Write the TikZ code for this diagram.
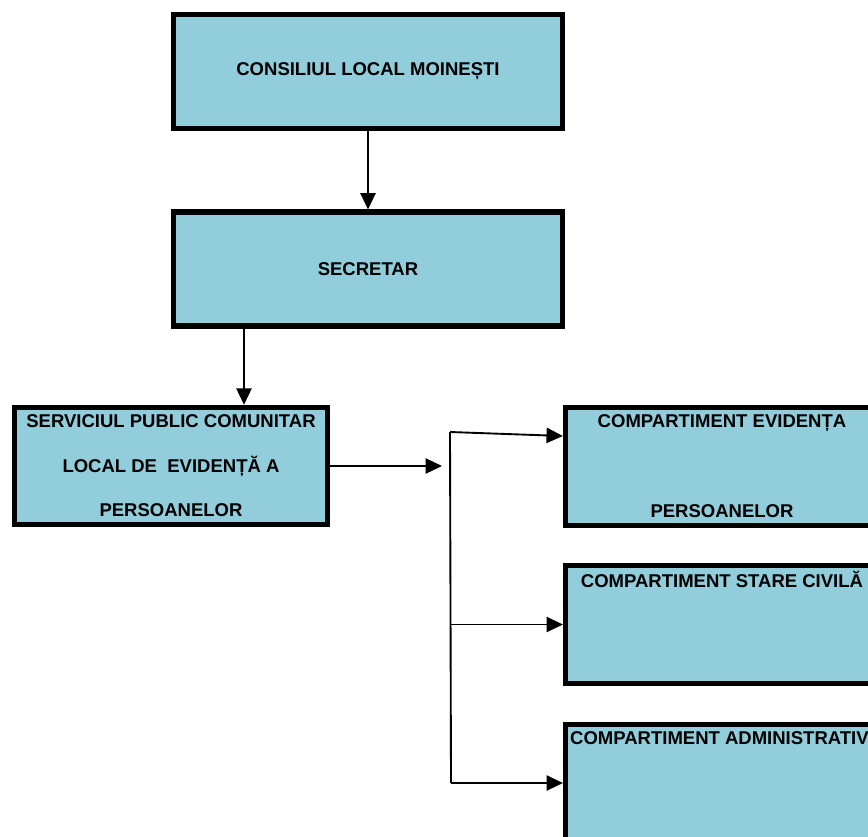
\documentclass[tikz,border=0pt]{standalone}
\usepackage{fontspec}
\setmainfont{Liberation Sans}
\usetikzlibrary{arrows.meta}
\definecolor{boxblue}{HTML}{92CDDC}
\begin{document}
\begin{tikzpicture}[x=0.03cm, y=-0.03cm,
	txt/.style={font=\fontsize{15.8}{38}\selectfont\bfseries},
	box/.style={draw, line width=4.4pt, fill=boxblue, align=center, txt},
	top box/.style={box, minimum width=11.67cm, minimum height=3.42cm},
	unit box/.style={box, minimum width=9.39cm, minimum height=3.52cm},
	arr/.style={-{Triangle[length=14pt,width=13pt]}, line width=1.6pt}]
\useasboundingbox (0,0) rectangle (868,836);
\clip (0,0) rectangle (868,836);
\node[top box] (cons) at (368,71.5) {CONSILIUL LOCAL MOINEȘTI};
\node[top box] (sec) at (368,269) {SECRETAR};
\node[unit box] (serv) at (171,466) {SERVICIUL PUBLIC COMUNITAR\\LOCAL DE~ EVIDENȚĂ A\\PERSOANELOR};
\node[unit box] (evid) at (722,466.5) {COMPARTIMENT EVIDENȚA\\[39pt]PERSOANELOR};
\node[unit box, label={[txt, anchor=base, yshift=-0.74cm]north:COMPARTIMENT STARE CIVILĂ}] (stare) at (722,624.5) {};
\node[unit box, label={[txt, anchor=base west, inner sep=0pt, xshift=0.21cm, yshift=-0.68cm]north west:COMPARTIMENT ADMINISTRATIV}] (adm) at (722,783.5) {};
\coordinate (drop) at (244,0);
\coordinate (split) at (442,469);
\coordinate (bustop) at (450,432);
\coordinate (busbot) at (451,783);
\draw[arr] (cons) -- (sec);
\draw[arr] (sec.south -| drop) -- (serv.north -| drop);
\draw[arr] (serv.east) -- (serv.east -| split);
\draw[line width=1.6pt] (bustop) -- (busbot);
\draw[arr] (bustop) -- ([yshift=0.915cm]evid.west);
\draw[arr] (bustop |- stare.west) -- (stare.west);
\draw[arr] (busbot) -- (busbot -| adm.west);
\end{tikzpicture}
\end{document}
